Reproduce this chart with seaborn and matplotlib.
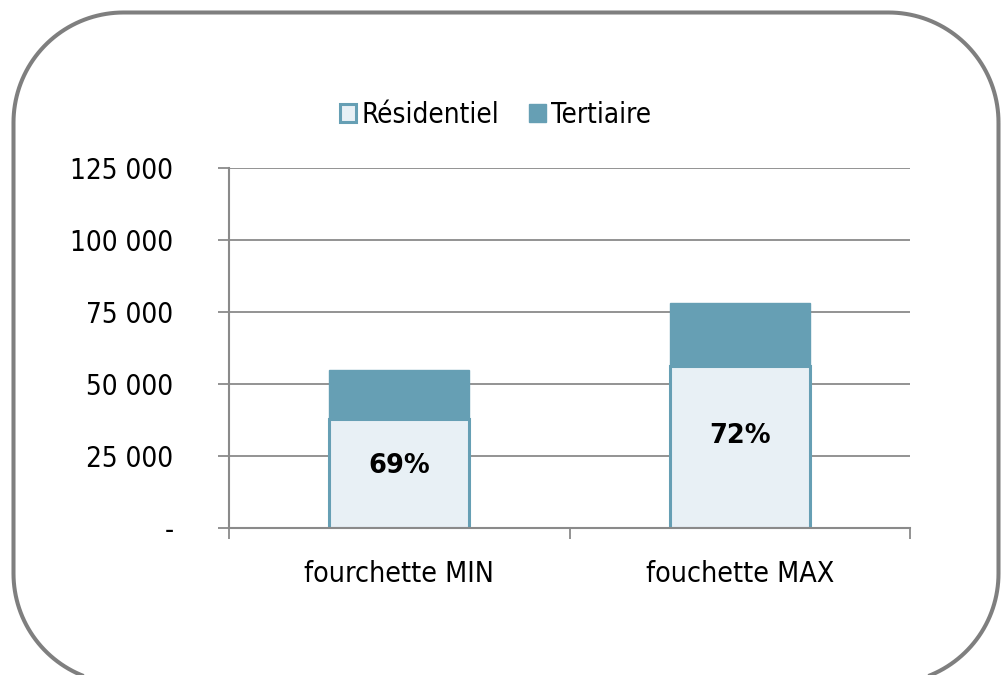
import matplotlib
matplotlib.use("Agg")
import numpy as np
import matplotlib.pyplot as plt
from matplotlib.patches import Patch, Polygon
from matplotlib.ticker import FixedLocator, FuncFormatter
import seaborn as sns
import pandas as pd

categories = ["fourchette MIN", "fouchette MAX"]
residentiel = [38000, 56200]
tertiaire = [17000, 21800]
yticks = [0, 25000, 50000, 75000, 100000, 125000]

TEAL = "#669fb4"
LIGHT = "#e8f0f5"
GRID = "#8a8a8a"

sns.set_theme(style="white")
plt.rcParams["font.family"] = ["DejaVu Sans"]
plt.rcParams["font.stretch"] = "condensed"
plt.rcParams["text.color"] = "black"

df = pd.DataFrame({
    "cat": categories,
    "res": residentiel,
    "tot": [r + t for r, t in zip(residentiel, tertiaire)],
})

fig = plt.figure(figsize=(10.01, 6.75), dpi=100)
ax = fig.add_axes([0.2288, 0.2178, 0.9091 - 0.2288, 0.751 - 0.2178])

# Stacked bars: full totals (tertiary on top) then residential drawn over the base
sns.barplot(data=df, x="cat", y="tot", color=TEAL, saturation=1, width=0.41,
            edgecolor=TEAL, linewidth=1, ax=ax, zorder=3)
sns.barplot(data=df, x="cat", y="res", color=LIGHT, saturation=1, width=0.41,
            edgecolor=TEAL, linewidth=2.2, ax=ax, zorder=4)

for i, (r, t) in enumerate(zip(df["res"], df["tot"])):
    ax.text(i, r * 0.57, f"{r / t:.0%}", ha="center", va="center",
            fontsize=18.5, fontweight="bold", fontstretch="normal",
            color="black", zorder=5)

ax.set_ylim(0, 125000)
ax.set_xlim(-0.5, 1.5)
ax.yaxis.set_major_locator(FixedLocator(yticks))
ax.yaxis.set_major_formatter(FuncFormatter(
    lambda v, p: "-" if v == 0 else f"{int(v):,}".replace(",", " ")))
ax.grid(axis="y", color=GRID, linewidth=1.3, zorder=0)
ax.set_axisbelow(True)
for s in ["top", "right"]:
    ax.spines[s].set_visible(False)
for s in ["left", "bottom"]:
    ax.spines[s].set_color(GRID)
    ax.spines[s].set_linewidth(1.5)
ax.spines["bottom"].set_zorder(6)

ax.tick_params(axis="y", length=8, width=1.3, color=GRID, direction="out",
               pad=32, labelsize=20, labelcolor="black", left=True)
ax.xaxis.set_major_locator(FixedLocator([0, 1]))
ax.xaxis.set_minor_locator(FixedLocator([-0.5, 0.5, 1.5]))
ax.tick_params(axis="x", which="major", length=0, pad=23, labelsize=20.5,
               labelcolor="black")
ax.tick_params(axis="x", which="minor", length=8, width=1.3, color=GRID,
               direction="out", bottom=True)
ax.set_xlabel("")
ax.set_ylabel("")

handles = [Patch(facecolor=LIGHT, edgecolor=TEAL, linewidth=2.2, label="Résidentiel"),
           Patch(facecolor=TEAL, edgecolor=TEAL, label="Tertiaire")]
fig.legend(handles=handles, loc="center", bbox_to_anchor=(0.495, 0.830), ncol=2,
           frameon=False, fontsize=20, handlelength=0.6, handleheight=0.6,
           handletextpad=0.2, columnspacing=1.05)

# Rounded outer frame (inches), running slightly past the bottom edge;
# built as a polygon so the clipped corners render cleanly
x0, y0, x1, y1, rad = 0.135, -0.085, 9.985, 6.625, 1.1
corners = [(x1 - rad, y1 - rad, 0), (x0 + rad, y1 - rad, 90),
           (x0 + rad, y0 + rad, 180), (x1 - rad, y0 + rad, 270)]
pts = []
for cx, cy, a0 in corners:
    th = np.radians(np.linspace(a0, a0 + 90, 40))
    pts.append(np.column_stack([cx + rad * np.cos(th), cy + rad * np.sin(th)]))
frame = Polygon(np.vstack(pts), closed=True, transform=fig.dpi_scale_trans,
                facecolor="none", edgecolor="#7f7f7f", linewidth=2.9,
                clip_on=False, joinstyle="round")
fig.add_artist(frame)

fig.savefig("out.png", dpi=100)
